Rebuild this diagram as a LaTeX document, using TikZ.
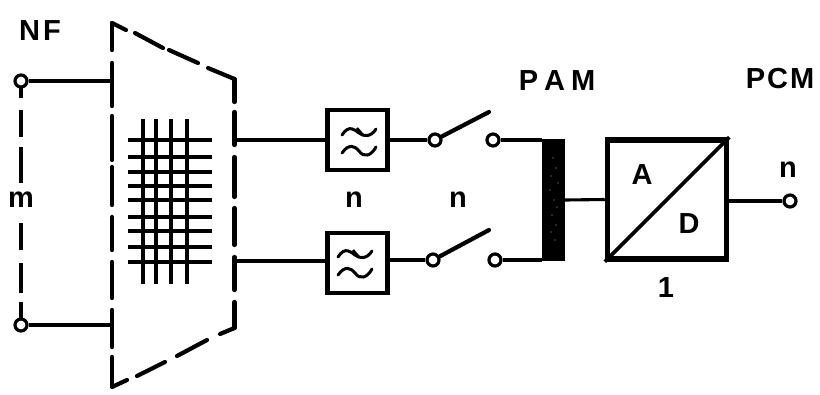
\documentclass[tikz,border=0pt]{standalone}
\usepackage{fontspec}
\setmainfont{Liberation Sans}[Scale=1]
\tikzset{
  term/.style={circle,draw,line width=3.2pt,fill=white,minimum size=12pt,inner sep=0pt},
  wire/.style={line width=3.1pt},
  dashseg/.style={line width=4.2pt,line cap=round},
  filterbox/.style={draw,line width=4.4pt,minimum width=60pt,minimum height=60pt,inner sep=0pt},
  gridline/.style={line width=3.4pt},
  lab/.style={inner sep=0pt,font=\fontsize{29}{29}\selectfont\bfseries},
  wave/.style={line width=3pt,line cap=round}
}
\newcommand{\tildes}[2]{%
  \draw[wave] (#1-16,#2-5) .. controls (#1-9,#2-16) and (#1-3,#2-10) .. (#1+1,#2-7) .. controls (#1+6,#2-3) and (#1+13,#2-3) .. (#1+18,#2-11);
  \draw[wave] (#1-16,#2+13) .. controls (#1-9,#2+3) and (#1-3,#2+6) .. (#1+1,#2+11) .. controls (#1+6,#2+18) and (#1+13,#2+16) .. (#1+18,#2+7);
  \draw[line width=2.4pt] (#1-1,#2-12) -- (#1+5,#2-5);
}
\begin{document}
\begin{tikzpicture}[x=1pt,y=-1pt]
\useasboundingbox (0,0) rectangle (820,394);
% terminals
\node[term] (t1) at (21,81) {};
\node[term] (t2) at (21,325) {};
\coordinate (l1) at (111,81);
\coordinate (l2) at (111,325);
\draw[wire] (t1) -- (l1);
\draw[wire] (t2) -- (l2);
% m dashed link
\foreach \a/\b in {87/98,110/137,147/183,223/250,263/293,302/319}
  \draw[line width=3.8pt] (21,\a) -- (21,\b);
% trapezoid
\foreach \a/\b in {23/50,63/106,116/160,167/205,217/250,262/298,310/347,357/386}
  \draw[dashseg] (112,\a) -- (112,\b);
\foreach \a/\b in {79/102,112/145,157/197,208/245,257/290,302/328}
  \draw[dashseg] (234.5,\a) -- (234.5,\b);
\draw[dashseg] (112,23) -- (126,30);
\draw[dashseg] (135,33) -- (163,48);
\draw[dashseg] (169,50) -- (198,63);
\draw[dashseg] (208,68) -- (234.5,79);
\draw[dashseg] (234.5,328) -- (220,334);
\draw[dashseg] (207,340) -- (177,356);
\draw[dashseg] (165,362) -- (137,376);
\draw[dashseg] (127,380) -- (112,387);
% grid
\foreach \x in {143,156,171,187}
  \draw[gridline] (\x,119) -- (\x,284);
\foreach \y in {140,157,172,186,200,217,231,247,262}
  \draw[gridline] (128,\y) -- (212,\y);
% filters
\node[filterbox] (f1) at (357.5,140) {};
\node[filterbox] (f2) at (357.5,263) {};
\tildes{358}{140}
\tildes{354}{262}
\coordinate (o1) at (235,140);
\coordinate (o2) at (235,261);
\draw[wire] (o1) -- (f1.west);
\draw[wire] (o2) -- (f2.west |- o2);
% switches
\node[term] (s1) at (435,140) {};
\node[term] (s2) at (433,260) {};
\node[term] (r1) at (493,140) {};
\node[term] (r2) at (495,260) {};
\coordinate (a1) at (489,112);
\coordinate (a2) at (489,230);
\draw[wire] (f1.east |- s1) -- (s1);
\draw[wire] (f2.east |- s2) -- (s2);
\draw[line width=4.2pt,line cap=round] (s1) -- (a1);
\draw[line width=4.2pt,line cap=round] (s2) -- (a2);
% PAM bar
\node[draw=none,fill=black,minimum width=23pt,minimum height=122pt,inner sep=0pt] (bar) at (553.5,200) {};
\foreach \x/\y in {553/158,556/168,551/176,550/190,554/200,557/207,552/215,556/225,551/232,555/240,558/183}
  \fill[gray!60] (\x,\y) circle (0.6pt);
\draw[wire] (r1) -- (bar.west |- r1);
\draw[wire] (r2) -- (bar.west |- r2);
% A/D
\node[draw,line width=5.5pt,minimum width=119pt,minimum height=119pt,inner sep=0pt] (adc) at (667,199.5) {};
\draw[line width=3.8pt] (adc.south west) -- (adc.north east);
\draw[wire] (bar.east) -- (adc.west);
\node[term] (out) at (790,201) {};
\draw[wire] (adc.east |- out) -- (out);
% labels
\node[lab] (nf) at (40,31) {N\hspace{3pt}F};
\node[lab] (m) at (21,200) {m};
\node[lab] (n1) at (354,200) {n};
\node[lab] (n2) at (458,200) {n};
\node[lab] (pam) at (557,81) {P\hspace{6pt}A\hspace{6pt}M};
\node[lab] (pcm) at (780,79) {P\hspace{2pt}C\hspace{2pt}M};
\node[lab] (na) at (788,170) {n};
\node[lab] (A) at (642,175) {A};
\node[lab] (D) at (689,224) {D};
\node[lab] (one) at (666,288) {1};
\end{tikzpicture}
\end{document}
